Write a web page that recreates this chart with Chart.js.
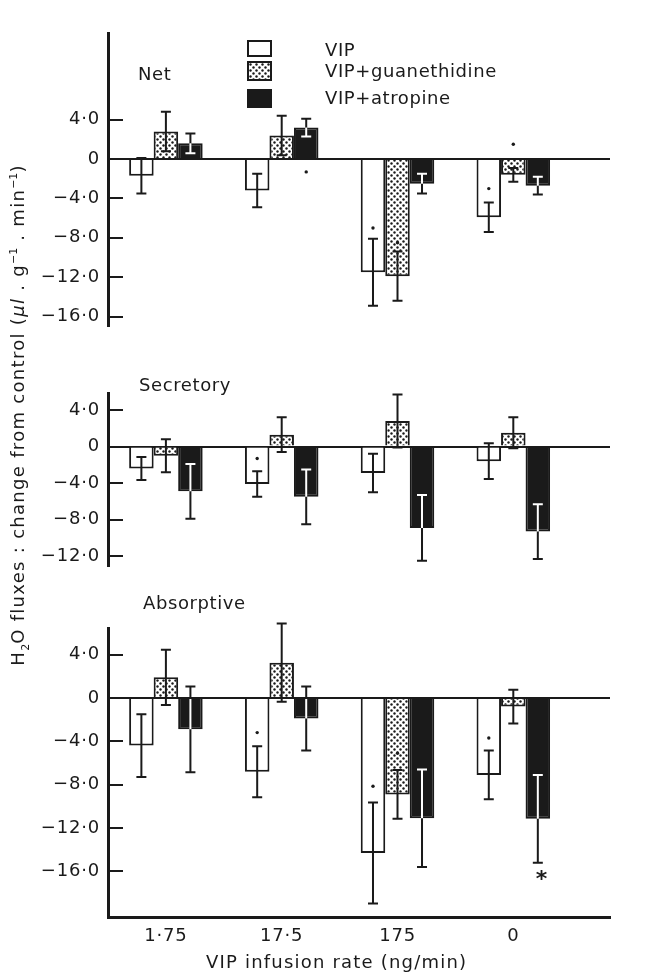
<!DOCTYPE html>
<html>
<head>
<meta charset="utf-8">
<title>VIP infusion - H2O fluxes</title>
<script src="https://cdn.jsdelivr.net/npm/chart.js@4.4.1/dist/chart.umd.min.js"></script>
<style>
  body { margin: 0; background: #fff; }
  #wrap { position: relative; width: 651px; height: 975px; overflow: hidden;
          font-family: 'DejaVu Sans', sans-serif; color: #1a1a1a; }
  #wrap canvas { position: absolute; left: 0; }
  .txt { position: absolute; font-size: 18px; line-height: 18px; letter-spacing: 0.6px; white-space: nowrap; }
  .swatch { position: absolute; left: 247px; width: 25px; box-sizing: border-box; border: 2px solid #1a1a1a; }
  #ytitle { position: absolute; left: -252px; top: 405px; width: 540px; text-align: center;
            font-size: 18px; line-height: 20px; letter-spacing: 1.3px; white-space: nowrap;
            transform: rotate(-90deg); }
  #ytitle sub, #ytitle sup { font-size: 11px; line-height: 0; letter-spacing: 0; }
</style>
</head>
<body>
<div id="wrap">
  <canvas id="net" width="651" height="360" style="top:0"></canvas>
  <canvas id="sec" width="651" height="240" style="top:360px"></canvas>
  <canvas id="abs" width="651" height="380" style="top:595px"></canvas>

  <div class="swatch" style="top:40px;height:17px;background:#fff"></div>
  <div class="swatch" id="dotSwatch" style="top:61px;height:20px"></div>
  <div class="swatch" style="top:89px;height:19px;background:#1a1a1a"></div>
  <div class="txt legend" style="left:325px;top:41px"></div>
  <div class="txt legend" style="left:325px;top:62px"></div>
  <div class="txt legend" style="left:325px;top:89px"></div>

  <div class="txt" style="left:138px;top:65px">Net</div>
  <div class="txt" style="left:139px;top:376px">Secretory</div>
  <div class="txt" style="left:143px;top:594px">Absorptive</div>

  <div id="ytitle">H<sub>2</sub>O fluxes : change from control (<i>μl</i> . g<sup>−1</sup> . min<sup>−1</sup>)</div>
  <div class="txt" style="left:206px;top:953px;letter-spacing:1.2px">VIP infusion rate (ng/min)</div>
</div>

<script>
const ink = '#1a1a1a';

// x positions of the four infusion groups and their labels
const positions = [1, 2, 3, 4];
const rateLabels = ['1·75', '17·5', '175', '0'];
const seriesNames = ['VIP', 'VIP+guanethidine', 'VIP+atropine'];

// Net fluxes (mean, s.e.)
const netVip = [-1.7, -3.2, -11.5, -5.9];
const netVipSe = [1.8, 1.7, 3.4, 1.5];
const netGuan = [2.8, 2.4, -11.9, -1.6];
const netGuanSe = [2.0, 2.0, 2.5, 0.7];
const netAtr = [1.6, 3.2, -2.5, -2.7];
const netAtrSe = [1.0, 0.9, 1.0, 0.9];
const netTicks = [4, 0, -4, -8, -12, -16];
// [series, group, value] of the significance dots
const netMarks = [[0, 2, -7.0], [1, 2, -8.5], [2, 1, -1.3], [0, 3, -3.0], [1, 3, 1.5]];

// Secretory fluxes
const secVip = [-2.4, -4.1, -2.9, -1.6];
const secVipSe = [1.25, 1.4, 2.1, 1.95];
const secGuan = [-1.0, 1.3, 2.8, 1.5];
const secGuanSe = [1.8, 1.9, 2.9, 1.7];
const secAtr = [-4.9, -5.5, -8.9, -9.3];
const secAtrSe = [3.0, 3.0, 3.6, 3.0];
const secTicks = [4, 0, -4, -8, -12];
const secMarks = [[0, 1, -1.3]];

// Absorptive fluxes
const absVip = [-4.4, -6.8, -14.3, -7.1];
const absVipSe = [2.9, 2.35, 4.65, 2.25];
const absGuan = [1.9, 3.25, -8.9, -0.8];
const absGuanSe = [2.55, 3.6, 2.25, 1.55];
const absAtr = [-2.9, -1.9, -11.1, -11.15];
const absAtrSe = [3.95, 2.95, 4.5, 4.05];
const absTicks = [4, 0, -4, -8, -12, -16];
const absMarks = [[0, 1, -3.2], [0, 2, -8.15], [1, 2, -5.1], [0, 3, -3.7]];
const absStars = [[2, 3, -16.1]];

document.querySelectorAll('.legend').forEach((el, k) => { el.textContent = seriesNames[k]; });

function dotTile() {
    const c = document.createElement('canvas');
    c.width = 6; c.height = 6;
    const g = c.getContext('2d');
    g.fillStyle = '#fff';
    g.fillRect(0, 0, 6, 6);
    g.fillStyle = ink;
    [[1.5, 1.5], [4.5, 4.5]].forEach(([x, y]) => {
        g.beginPath();
        g.arc(x, y, 1.2, 0, Math.PI * 2);
        g.fill();
    });
    return c;
}
document.getElementById('dotSwatch').style.background = 'url(' + dotTile().toDataURL() + ')';

function fmtTick(v) {
    if (v === 0) return '0';
    return (v < 0 ? '−' : '') + Math.abs(v).toFixed(1).replace('.', '·');
}

function whisker(ctx, x, y1, y2, color) {
    ctx.strokeStyle = color;
    ctx.lineWidth = 2;
    ctx.beginPath();
    ctx.moveTo(x, y1); ctx.lineTo(x, y2);
    ctx.moveTo(x - 5, y1); ctx.lineTo(x + 5, y1);
    ctx.moveTo(x - 5, y2); ctx.lineTo(x + 5, y2);
    ctx.stroke();
}

const errorBars = {
    id: 'errorBars',
    afterDatasetsDraw(chart) {
        const { ctx, scales: { y } } = chart;
        chart.data.datasets.forEach((ds, k) => {
            chart.getDatasetMeta(k).data.forEach((bar, i) => {
                const mean = ds.data[i].y, se = ds.errors[i];
                const yHi = y.getPixelForValue(mean + se);
                const yLo = y.getPixelForValue(mean - se);
                ctx.save();
                whisker(ctx, bar.x, yHi, yLo, ink);
                // inside the black bars the whisker is white
                if (ds.solid) {
                    ctx.beginPath();
                    ctx.rect(bar.x - bar.width / 2, Math.min(bar.y, bar.base), bar.width, Math.abs(bar.base - bar.y));
                    ctx.clip();
                    whisker(ctx, bar.x, yHi, yLo, '#fff');
                }
                ctx.restore();
            });
        });
    }
};

const sigMarks = {
    id: 'sigMarks',
    afterDatasetsDraw(chart, args, opts) {
        const { ctx, scales: { y } } = chart;
        ctx.save();
        ctx.fillStyle = ink;
        (opts.marks || []).forEach(([k, i, v]) => {
            const bar = chart.getDatasetMeta(k).data[i];
            ctx.beginPath();
            ctx.arc(bar.x, y.getPixelForValue(v), 1.7, 0, Math.PI * 2);
            ctx.fill();
        });
        ctx.font = 'bold 22px "DejaVu Sans"';
        ctx.textAlign = 'center';
        ctx.textBaseline = 'alphabetic';
        (opts.stars || []).forEach(([k, i, v]) => {
            const bar = chart.getDatasetMeta(k).data[i];
            ctx.fillText('*', bar.x + 4, y.getPixelForValue(v) + 13);
        });
        ctx.restore();
    }
};

const tracking = {
    id: 'tracking',
    beforeDraw(chart) { chart.ctx.letterSpacing = '0.8px'; }
};

function makePanel(id, cfg) {
    const canvas = document.getElementById(id);
    const dots = canvas.getContext('2d').createPattern(dotTile(), 'repeat');
    const fills = ['#ffffff', dots, ink];
    const datasets = cfg.series.map((vals, k) => ({
        label: seriesNames[k],
        data: vals.map((v, i) => ({ x: positions[i], y: v })),
        errors: cfg.errors[k],
        solid: k === 2,
        backgroundColor: fills[k],
        borderColor: ink,
        borderWidth: 2,
        barPercentage: 1,
        categoryPercentage: 0.635
    }));

    return new Chart(canvas, {
        type: 'bar',
        data: { datasets },
        options: {
            responsive: false,
            animation: false,
            events: [],
            layout: { padding: cfg.padding },
            plugins: {
                legend: { display: false },
                tooltip: { enabled: false },
                sigMarks: { marks: cfg.marks, stars: cfg.stars || [] }
            },
            scales: {
                x: {
                    type: 'linear',
                    offset: false,
                    min: 0.5,
                    max: 4.835,
                    display: cfg.showX,
                    afterBuildTicks: s => { s.ticks = positions.map(v => ({ value: v })); },
                    afterFit: s => { s.height = cfg.xHeight || 0; },
                    grid: { display: false, drawTicks: false },
                    border: { display: true, color: ink, width: 3 },
                    ticks: {
                        padding: 9,
                        autoSkip: false,
                        maxRotation: 0,
                        color: ink,
                        font: { family: 'DejaVu Sans', size: 18 },
                        callback: v => rateLabels[positions.indexOf(v)] ?? ''
                    }
                },
                y: {
                    min: cfg.min,
                    max: cfg.max,
                    afterBuildTicks: s => { s.ticks = cfg.ticks.map(v => ({ value: v })); },
                    afterFit: s => { s.width = 108; },
                    border: { display: true, color: ink, width: 3 },
                    grid: {
                        color: c => (c.tick && c.tick.value === 0 ? ink : 'rgba(0,0,0,0)'),
                        tickColor: ink,
                        lineWidth: 2,
                        tickLength: -15
                    },
                    ticks: {
                        padding: 23,
                        autoSkip: false,
                        color: ink,
                        font: { family: 'DejaVu Sans', size: 18 },
                        callback: v => fmtTick(v)
                    }
                }
            }
        },
        plugins: [tracking, errorBars, sigMarks]
    });
}

makePanel('net', {
    series: [netVip, netGuan, netAtr],
    errors: [netVipSe, netGuanSe, netAtrSe],
    ticks: netTicks, marks: netMarks,
    min: -16.98, max: 12.73,
    padding: { top: 5, bottom: 5, left: 0, right: 41 },
    showX: false
});

makePanel('sec', {
    series: [secVip, secGuan, secAtr],
    errors: [secVipSe, secGuanSe, secAtrSe],
    ticks: secTicks, marks: secMarks,
    min: -13.09, max: 5.77,
    padding: { top: 9, bottom: 7, left: 0, right: 41 },
    showX: false
});

makePanel('abs', {
    series: [absVip, absGuan, absAtr],
    errors: [absVipSe, absGuanSe, absAtrSe],
    ticks: absTicks, marks: absMarks, stars: absStars,
    min: -20.2, max: 6.37,
    padding: { top: 5, bottom: 0, left: 0, right: 41 },
    showX: true,
    xHeight: 58
});
</script>
</body>
</html>
